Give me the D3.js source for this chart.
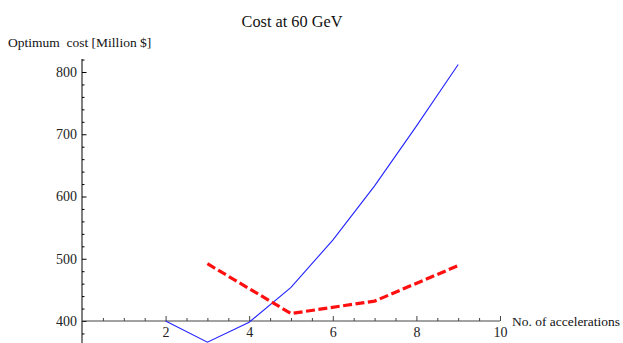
<!DOCTYPE html>
<html><head><meta charset="utf-8">
<script src="https://cdn.jsdelivr.net/npm/d3@7"></script>
<style>
body{margin:0;background:#fff;}
svg{display:block;font-family:"Liberation Serif","Times New Roman",serif;}
</style></head><body>
<svg id="c" width="623" height="343"></svg>
<script>
const accelerations = [2,3,4,5,6,7,8,9];
const costBlue = [400,366,398,454,530,617,713,812];
const accelRed = [3,5,7,9];
const costRed = [492,412,432,489];
const xMajorTicks = [2,4,6,8,10];
const yMajorTicks = [400,500,600,700,800];
const title = "Cost at 60 GeV";
const yLabel = "Optimum  cost [Million $]";
const xLabel = "No. of accelerations";

const svg = d3.select("#c");
const x = d3.scaleLinear().domain([0,10]).range([82,500]);
const y = d3.scaleLinear().domain([400,800]).range([321,72]);

const xMinor = d3.range(0.5,10.01,0.5).filter(v=>xMajorTicks.indexOf(v)<0);
const yMinor = d3.range(380,821,20).filter(v=>yMajorTicks.indexOf(v)<0);

// y axis
const gy = svg.append("g").attr("transform",`translate(${x(0)},0)`);
gy.append("line").attr("x1",0).attr("x2",0).attr("y1",59).attr("y2",343).attr("stroke","#000").attr("stroke-width",1);
gy.append("g").call(d3.axisLeft(y).tickValues(yMinor).tickSize(-2.5).tickFormat(""))
  .call(g=>g.select(".domain").remove()).selectAll("line").attr("stroke","#000");
gy.append("g").call(d3.axisLeft(y).tickValues(yMajorTicks).tickSize(-4.5).tickPadding(5))
  .call(g=>g.select(".domain").remove())
  .call(g=>g.selectAll("line").attr("stroke","#000"))
  .call(g=>g.selectAll("text").attr("font-size",14).attr("font-family","Liberation Serif").attr("fill","#222"));

// x axis
const gx = svg.append("g").attr("transform",`translate(0,${y(400)})`);
gx.append("line").attr("x1",x(0)).attr("x2",x(10)).attr("y1",0).attr("y2",0).attr("stroke","#444").attr("stroke-width",1);
gx.append("g").call(d3.axisBottom(x).tickValues(xMinor).tickSize(-3).tickFormat(""))
  .call(g=>g.select(".domain").remove()).selectAll("line").attr("stroke","#444");
gx.append("g").call(d3.axisBottom(x).tickValues(xMajorTicks).tickSize(-5).tickPadding(6).tickFormat(d3.format("d")))
  .call(g=>g.select(".domain").remove())
  .call(g=>g.selectAll("line").attr("stroke","#444"))
  .call(g=>g.selectAll("text").attr("font-size",14).attr("font-family","Liberation Serif").attr("fill","#222"));

const line = d3.line().x(d=>x(d[0])).y(d=>y(d[1]));
svg.append("path").datum(accelerations.map((a,i)=>[a,costBlue[i]]))
  .attr("d",line).attr("fill","none").attr("stroke","#2222ff").attr("stroke-width",1.1);
svg.append("path").datum(accelRed.map((a,i)=>[a,costRed[i]]))
  .attr("d",line).attr("fill","none").attr("stroke","#ff1010").attr("stroke-width",3.2)
  .attr("stroke-dasharray","9,3.5");

svg.append("text").attr("x",292).attr("y",27).attr("text-anchor","middle")
  .attr("font-size",16.3).attr("fill","#111").text(title);
svg.append("text").attr("x",8).attr("y",47).attr("font-size",13.5).attr("fill","#111")
  .attr("xml:space","preserve").style("white-space","pre").text(yLabel);
svg.append("text").attr("x",512).attr("y",326).attr("font-size",13.3).attr("fill","#111")
  .attr("textLength",108).attr("lengthAdjust","spacingAndGlyphs").text(xLabel);
</script>
</body></html>
